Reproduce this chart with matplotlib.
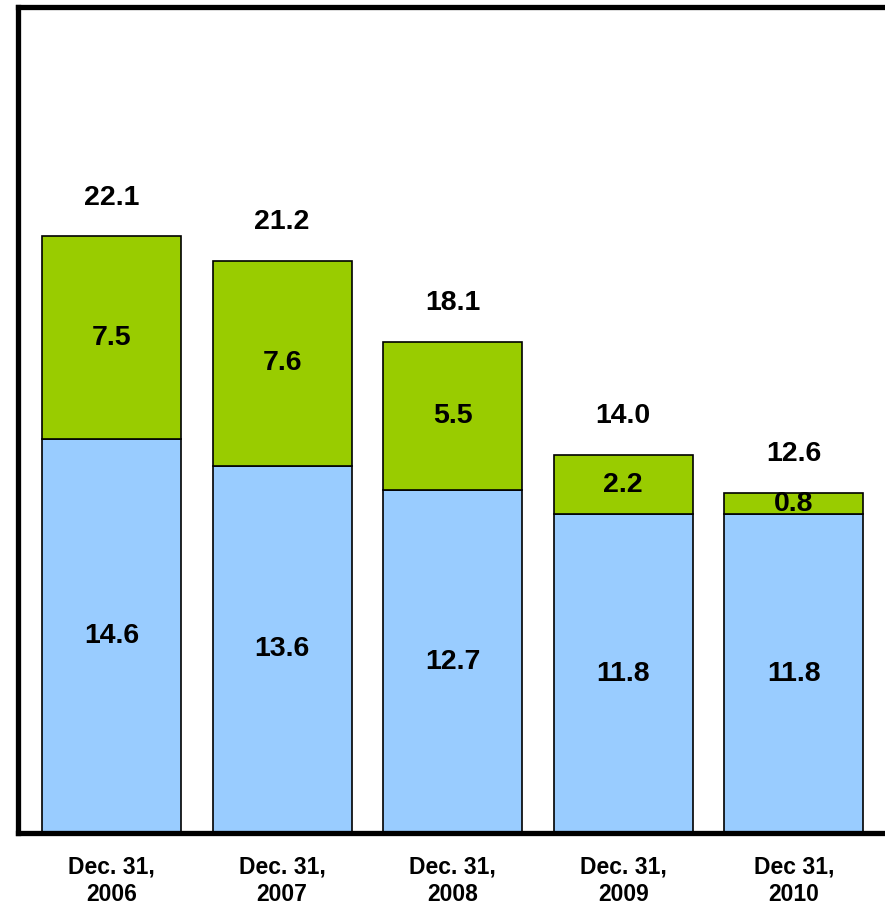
import matplotlib
matplotlib.use("Agg")
import matplotlib.pyplot as plt
import numpy as np

plt.rcParams['font.family'] = ['Liberation Sans', 'DejaVu Sans']

dates = ["Dec. 31,\n2006", "Dec. 31,\n2007", "Dec. 31,\n2008", "Dec. 31,\n2009", "Dec 31,\n2010"]
lower = [14.6, 13.6, 12.7, 11.8, 11.8]
upper = [7.5, 7.6, 5.5, 2.2, 0.8]
totals = [22.1, 21.2, 18.1, 14.0, 12.6]

blue = "#99CCFF"
green = "#99CC00"

fig = plt.figure(figsize=(8.85, 9.07), dpi=100)
ax = fig.add_axes([18 / 885, 74 / 907, 882 / 885, 826 / 907])

x = np.arange(len(dates))
w = 0.815
ax.bar(x, lower, w, color=blue, edgecolor="black", linewidth=1.2)
ax.bar(x, upper, w, bottom=lower, color=green, edgecolor="black", linewidth=1.2)

for i in range(len(dates)):
    ax.text(x[i], lower[i] / 2, f"{lower[i]:.1f}", ha="center", va="center",
            fontsize=20.5, fontweight="bold")
    ax.text(x[i], lower[i] + upper[i] / 2, f"{upper[i]:.1f}", ha="center", va="center",
            fontsize=20.5, fontweight="bold")
    ax.annotate(f"{totals[i]:.1f}", (x[i], lower[i] + upper[i]), xytext=(0, 28),
                textcoords="offset points", ha="center", va="center",
                fontsize=20.5, fontweight="bold")

ax.set_xlim(-0.548, -0.548 + 882 / 170.6)
ax.set_ylim(0, 30.6)
ax.set_xticks(x)
ax.set_xticklabels(dates, fontsize=16.5, fontweight="bold", linespacing=1.25)
ax.tick_params(axis="x", length=0, pad=16)
ax.set_yticks([])
ax.spines["right"].set_visible(False)
for s in ["left", "top", "bottom"]:
    ax.spines[s].set_linewidth(3.8)

fig.savefig("out.png", dpi=100)
